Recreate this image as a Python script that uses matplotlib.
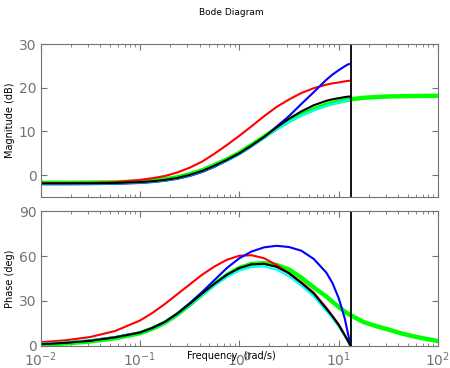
import numpy as np
import matplotlib
matplotlib.use('Agg')
import matplotlib.pyplot as plt

# ------------------------
# values
# ------------------------

# frequency grid (rad/s) shared by the discrete curves
w = [0.01, 0.0178, 0.0316, 0.0562, 0.1, 0.133, 0.178, 0.237, 0.316, 0.422,
     0.562, 0.75, 1.0, 1.33, 1.78, 2.37, 3.16, 4.22, 5.62, 7.5, 8.66, 10.0,
     11.5, 12.3, 13.2]
# continuous curve goes on past the Nyquist line
w_cont = w + [17.8, 23.7, 31.6, 42.2, 56.2, 75.0, 100.0]
w_nyq = 13.2

mag_red = [-1.8, -1.8, -1.75, -1.6, -1.1, -0.7, -0.2, 0.6, 1.7, 3.1, 4.9, 6.9,
           9.0, 11.2, 13.5, 15.6, 17.3, 18.8, 19.9, 20.7, 21.0, 21.2,
           21.45, 21.55, 21.6]
mag_blue = [-2.1, -2.1, -2.07, -2.0, -1.8, -1.6, -1.3, -0.85, -0.2, 0.7, 1.9, 3.3,
            4.8, 6.6, 8.6, 11.1, 13.5, 16.3, 19.0, 21.8, 23.0, 24.0,
            24.9, 25.3, 25.5]
mag_black = [-1.9, -1.9, -1.87, -1.8, -1.6, -1.4, -1.1, -0.65, 0.05, 0.95, 2.15, 3.5,
             5.0, 6.8, 8.75, 10.9, 12.9, 14.6, 16.0, 17.0, 17.35, 17.6,
             17.85, 17.95, 18.0]
mag_cyan = [-2.0, -2.0, -1.97, -1.9, -1.7, -1.5, -1.2, -0.75, -0.05, 0.85, 2.05, 3.35,
            4.85, 6.65, 8.55, 10.45, 12.15, 13.65, 14.85, 15.85, 16.25, 16.6,
            16.95, 17.1, 17.2]
mag_green = [-1.75, -1.75, -1.72, -1.65, -1.45, -1.25, -0.95, -0.5, 0.2, 1.1, 2.3, 3.6,
             5.1, 6.9, 8.8, 10.7, 12.4, 13.9, 15.1, 16.1, 16.5, 16.8,
             17.1, 17.25, 17.35,
             17.7, 17.85, 18.0, 18.05, 18.1, 18.12, 18.15]

ph_red = [2.5, 3.8, 6.0, 10.0, 17.0, 22.0, 28.0, 34.5, 41.0, 47.5, 53.0, 57.5,
          60.2, 60.5, 58.5, 54.0, 48.5, 42.5, 35.5, 25.5, 20.0, 14.5,
          7.5, 4.0, 0.0]
ph_blue = [1.4, 2.3, 3.7, 5.9, 9.0, 12.0, 16.0, 21.6, 28.5, 36.0, 44.0, 52.0,
           58.5, 63.0, 65.8, 66.8, 66.0, 63.5, 58.0, 49.0, 42.0, 32.0,
           18.5, 9.5, 0.0]
ph_black = [1.2, 2.1, 3.5, 5.8, 9.0, 12.0, 16.0, 21.5, 28.0, 35.0, 41.5, 47.5,
            52.0, 54.5, 54.8, 52.8, 48.5, 42.0, 35.0, 25.0, 19.8, 14.0,
            7.2, 3.8, 0.0]
ph_cyan = [1.6, 2.5, 3.9, 6.0, 9.0, 11.8, 15.6, 21.0, 27.3, 34.0, 40.3, 46.0,
           50.3, 52.7, 53.0, 51.0, 46.5, 40.2, 33.0, 23.5, 18.5, 13.0,
           6.7, 3.5, 0.0]
ph_green = [0.9, 1.7, 3.0, 5.2, 8.5, 11.5, 15.5, 21.0, 27.5, 34.5, 41.2, 47.3,
            52.0, 54.7, 55.2, 54.0, 51.0, 45.5, 39.0, 33.0, 29.5, 26.0,
            23.0, 21.8, 20.5,
            16.0, 13.3, 11.0, 8.5, 6.5, 4.8, 3.3]

mag_ticks = [0, 10, 20, 30]
ph_ticks = [0, 30, 60, 90]

# ------------------------

gray = '0.45'
fig = plt.figure(figsize=(4.5, 3.68), dpi=100)
ax1 = fig.add_axes([0.0904, 0.4647, 0.8829, 0.4157])
ax2 = fig.add_axes([0.0904, 0.0598, 0.8829, 0.3668])

series = [
    (mag_green, ph_green, w_cont, (0, 1, 0), 3.2),
    (mag_red, ph_red, w, (1, 0, 0), 1.5),
    (mag_blue, ph_blue, w, (0, 0, 1), 1.5),
    (mag_cyan, ph_cyan, w, (0, 1, 1), 1.5),
    (mag_black, ph_black, w, (0, 0, 0), 1.5),
]
for mag, ph, ww, col, lw in series:
    ax1.semilogx(ww, mag, color=col, lw=lw)
    ax2.semilogx(ww, ph, color=col, lw=lw)

for ax in (ax1, ax2):
    ax.axvline(w_nyq, color='k', lw=1.3)
    ax.set_xlim(1e-2, 1e2)
    ax.tick_params(which='both', direction='in', top=True, right=True,
                   colors=gray, labelsize=10, pad=3)
    ax.tick_params(which='major', length=4)
    ax.tick_params(which='minor', length=2)
    for s in ax.spines.values():
        s.set_color(gray)

ax1.set_ylim(-5, 30)
ax1.set_yticks(mag_ticks)
ax1.tick_params(labelbottom=False)
ax2.set_ylim(0, 90)
ax2.set_yticks(ph_ticks)
ax2.tick_params(axis='x', pad=3)

fig.text(0.515, 0.966, 'Bode Diagram', ha='center', va='center', fontsize=6.5)
fig.text(0.515, 0.033, 'Frequency  (rad/s)', ha='center', va='center', fontsize=7)
fig.text(0.022, 0.672, 'Magnitude (dB)', rotation=90, ha='center', va='center', fontsize=7)
fig.text(0.022, 0.243, 'Phase (deg)', rotation=90, ha='center', va='center', fontsize=7)

fig.savefig('out.png', dpi=100)
